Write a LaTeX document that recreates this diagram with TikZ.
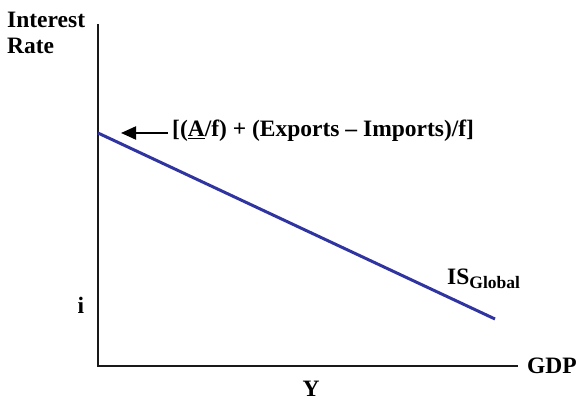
\documentclass[tikz,border=0pt]{standalone}
\usepackage{fontspec}
\setmainfont{Liberation Serif}
\usetikzlibrary{positioning,arrows.meta}
\definecolor{isblue}{RGB}{48,52,160}

\begin{document}
\begin{tikzpicture}[
  x=1pt, y=1pt,
  lbl/.style={font=\bfseries\fontsize{23.5}{26}\selectfont, inner sep=0pt},
  axis/.style={draw=black!90, line width=2.2pt},
  curve/.style={draw=isblue, line width=3pt},
  arr/.style={-{Triangle[length=15pt,width=13pt]}, line width=2pt}
]
\useasboundingbox (0,0) rectangle (577,401);
\coordinate (o) at (98,35);
\coordinate (ytop) at (98,377);
\coordinate (xend) at (518,35);
\coordinate (yint) at (98,268);
\coordinate (isend) at (495,82);
\draw[axis] (ytop) -- (o) -- (xend);
\draw[curve] (yint) -- (isend);
\node[lbl, anchor=base west, align=left] (ylab) at (7,347) {Interest\\Rate};
\node[lbl, anchor=base west] (xlab) at (527,28) {GDP};
\node[lbl, anchor=base] (ival) at (81,87) {i};
\node[lbl, anchor=base] (yval) at (311,5) {Y};
\node[lbl, anchor=base west] (islab) at (447,116)
  {IS\raisebox{-4pt}{\fontsize{17.5}{20}\selectfont Global}};
\node[lbl, anchor=base west] (formula) at (172,264) {[(\underline{A}/f) + (Exports -- Imports)/f]};
\coordinate (tip) at (121,268);
\draw[arr] ([xshift=-4pt]formula.west |- tip) -- (tip);
\end{tikzpicture}
\end{document}
